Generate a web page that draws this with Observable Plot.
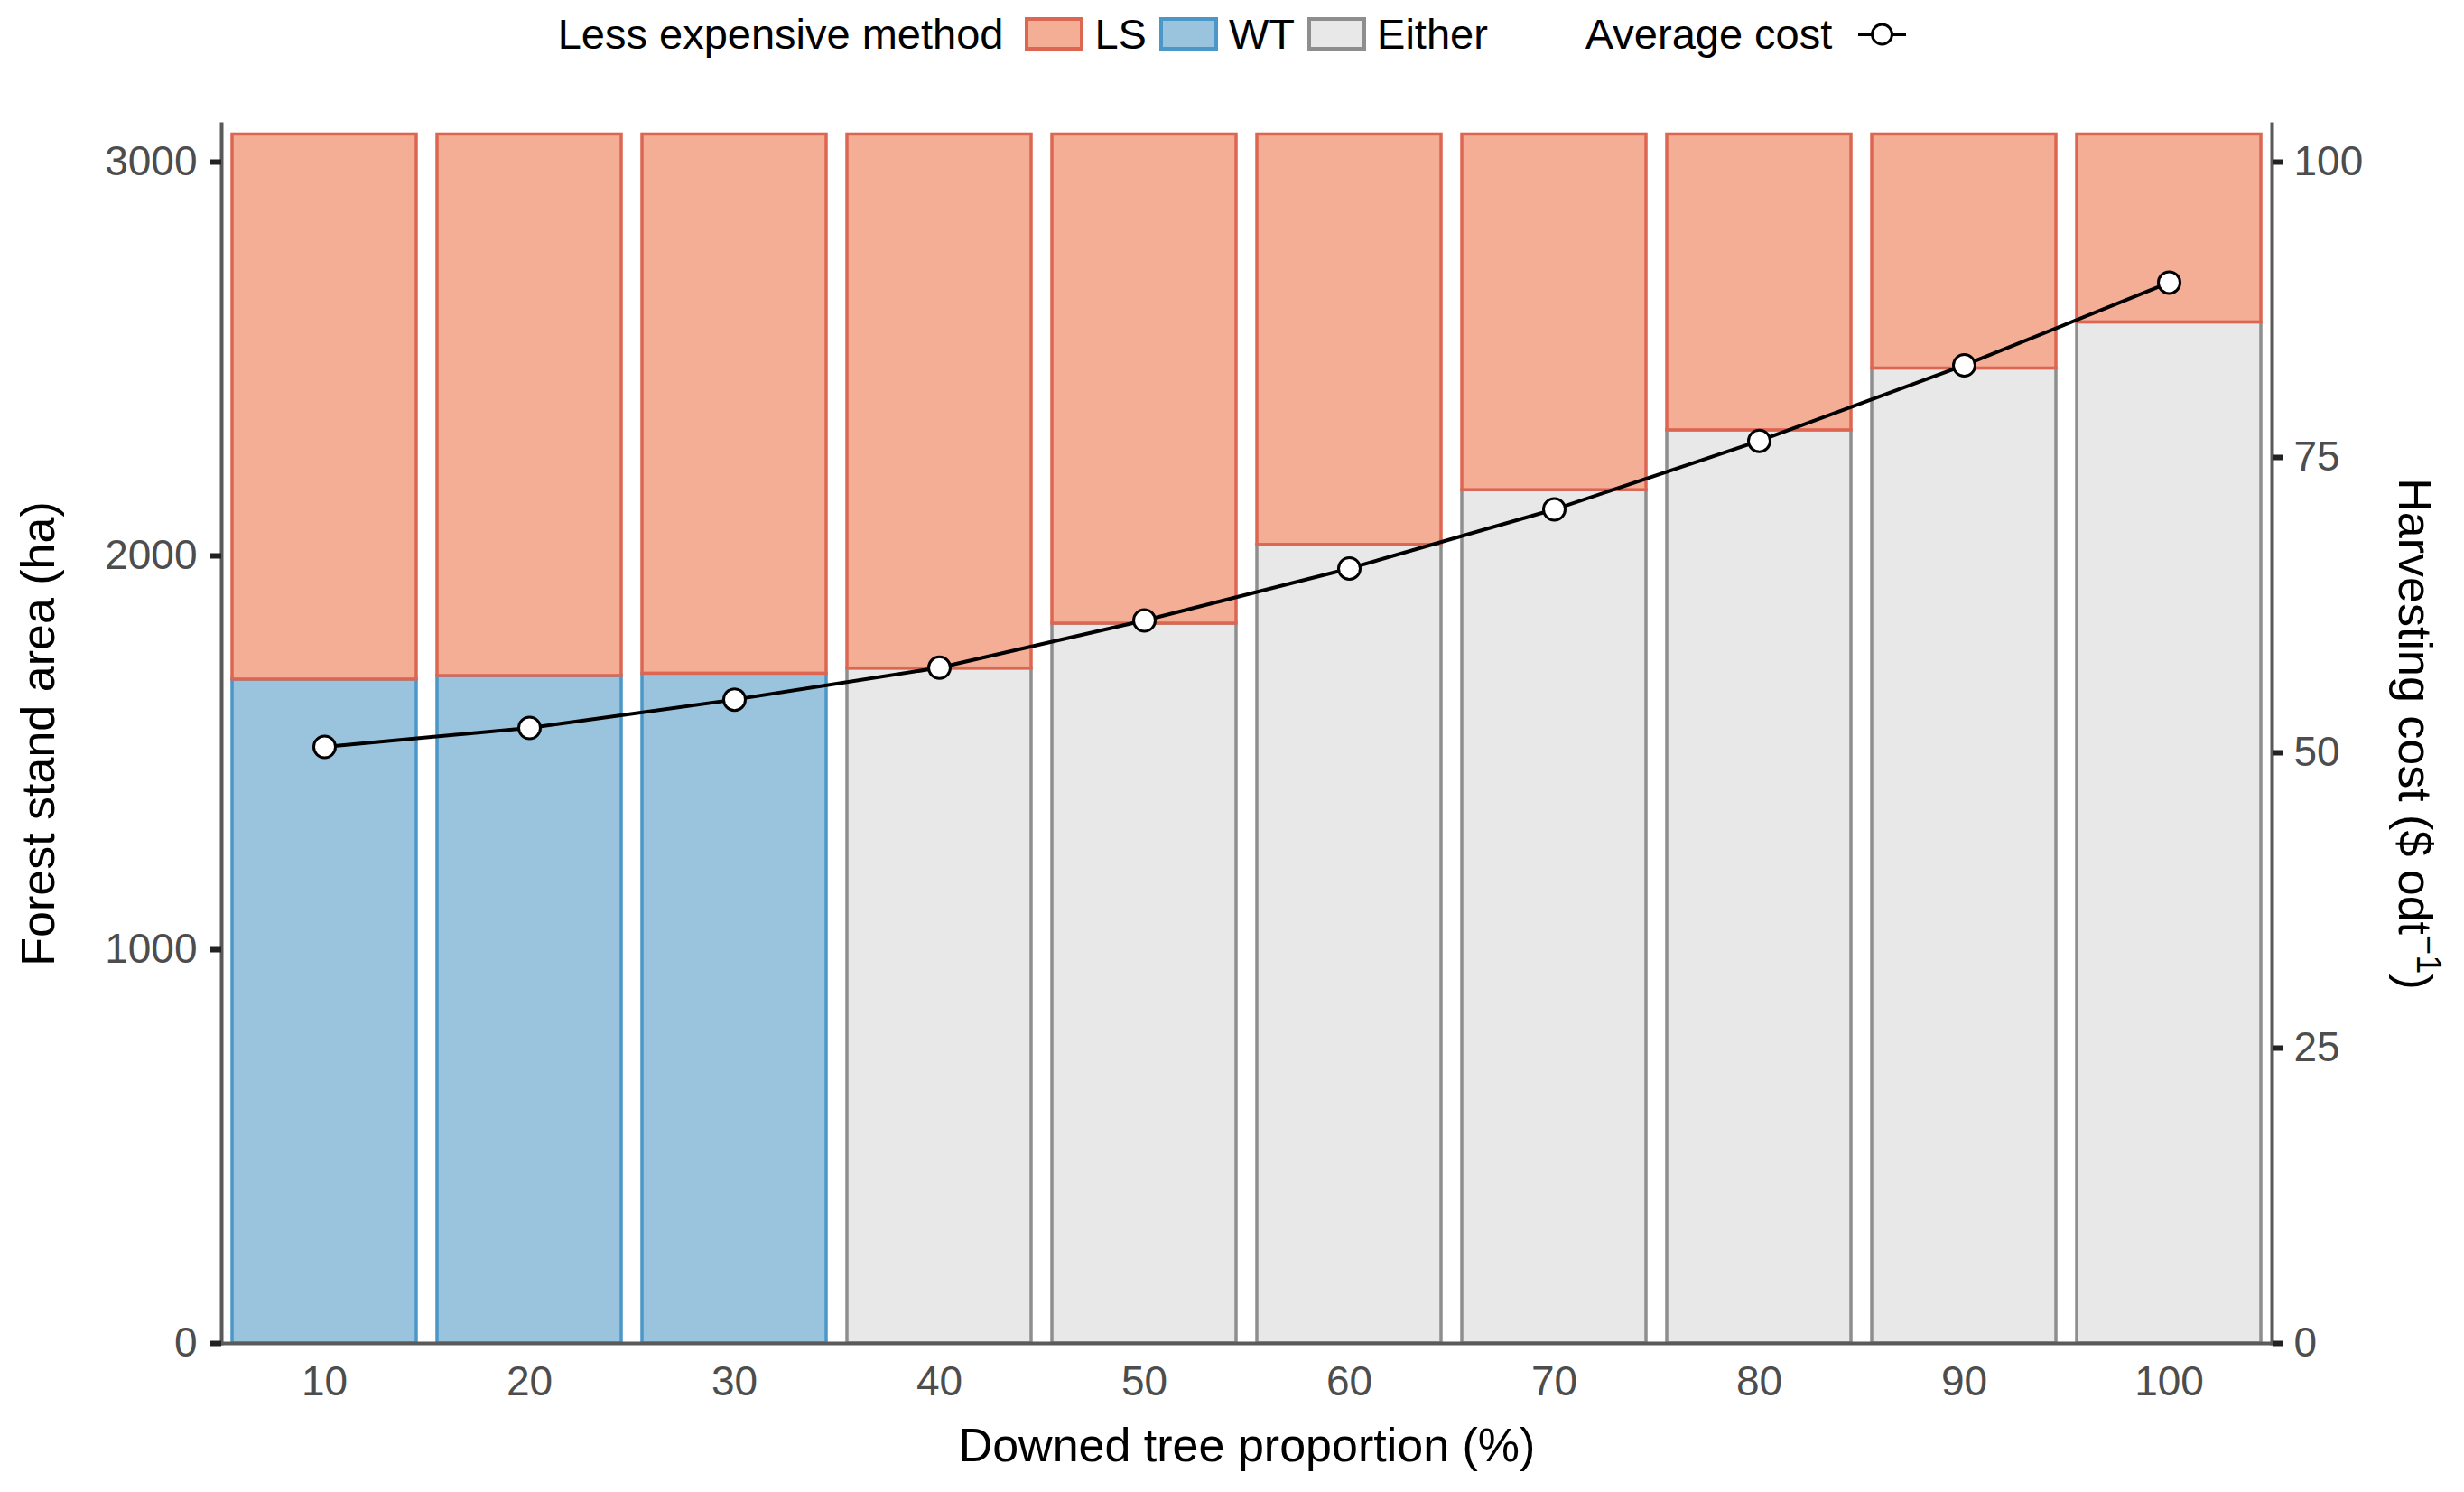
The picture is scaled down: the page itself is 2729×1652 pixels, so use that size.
<!DOCTYPE html>
<html>
<head>
<meta charset="utf-8">
<script src="https://cdn.jsdelivr.net/npm/d3@7"></script>
<script src="https://cdn.jsdelivr.net/npm/@observablehq/plot@0.6"></script>
<style>
  html, body { margin: 0; padding: 0; background: #fff; }
  body { width: 2729px; font-family: "Liberation Sans", Arial, Helvetica, sans-serif; }
  #legend {
    height: 75px; display: flex; align-items: center; justify-content: center;
    font-size: 47px; color: #000; white-space: nowrap;
  }
  .sw { width: 65px; height: 37px; box-sizing: border-box; border: 4px solid; display: inline-block; }
  .lab { margin-left: 12px; margin-right: 14px; }
  svg { display: block; }
</style>
</head>
<body>
<div id="legend"></div>
<div id="chart"></div>
<script>
// ---- data ----
const categories = [10, 20, 30, 40, 50, 60, 70, 80, 90, 100];
const wtArea     = [1686, 1695, 1701, 0, 0, 0, 0, 0, 0, 0];
const eitherArea = [0, 0, 0, 1714, 1828, 2028, 2167, 2319, 2476, 2593];
const lsArea     = [1384, 1375, 1369, 1356, 1242, 1042, 903, 751, 594, 477];
const avgCost    = [50.5, 52.1, 54.5, 57.2, 61.2, 65.6, 70.6, 76.4, 82.8, 89.8];
const leftTicks  = [0, 1000, 2000, 3000];
const rightTicks = [0, 25, 50, 75, 100];
const methods    = ["LS", "WT", "Either"];

// ---- styles ----
const fills   = {LS: "#f4ae95", WT: "#9ac4de", Either: "#e8e8e8"};
const strokes = {LS: "#dd6652", WT: "#4a97c8", Either: "#8e8e8e"};
const HA_PER_COST = 30;      // right axis: 100 $ odt-1  <->  3000 ha
const Y_TOP = 3096.3;

// ---- legend ----
const legend = document.getElementById("legend");
let html = `<span style="margin-right:24px">Less expensive method</span>`;
methods.forEach((m, i) => {
  html += `<span class="sw" style="background:${fills[m]};border-color:${strokes[m]}"></span>`;
  html += `<span class="lab" style="${i === methods.length - 1 ? "margin-right:108px" : ""}">${m}</span>`;
});
html += `<span style="margin-right:29px">Average cost</span>`;
html += `<svg width="53" height="28" style="display:inline-block"><line x1="0" x2="53" y1="14" y2="14" stroke="#000" stroke-width="4"/><circle cx="26.5" cy="14" r="11" fill="#fff" stroke="#000" stroke-width="3"/></svg>`;
legend.innerHTML = html;

// ---- tables ----
const rows = [];
categories.forEach((c, i) => {
  if (wtArea[i] > 0) rows.push({x: c, method: "WT", area: wtArea[i]});
  if (eitherArea[i] > 0) rows.push({x: c, method: "Either", area: eitherArea[i]});
  rows.push({x: c, method: "LS", area: lsArea[i]});
});
const costRows = categories.map((c, i) => ({x: c, cost: avgCost[i]}));

const W = 2729, H = 1577;
const axisColor = "#5a5a5a";

const chart = Plot.plot({
  width: W,
  height: H,
  marginTop: 62,
  marginBottom: 165,
  marginLeft: 245,
  marginRight: 213,
  style: {fontFamily: "Liberation Sans, Arial, Helvetica, sans-serif", fontSize: "46px", background: "#fff", overflow: "visible"},
  x: {type: "band", domain: categories, paddingInner: 0.1, paddingOuter: 0.04, axis: null},
  y: {domain: [0, Y_TOP], axis: null},
  color: {type: "identity"},
  marks: [
    Plot.barY(rows, Plot.stackY({
      x: "x", y: "area", z: "method", order: ["WT", "Either", "LS"],
      fill: d => fills[d.method], stroke: d => strokes[d.method], strokeWidth: 3.5
    })),
    Plot.line(costRows, {x: "x", y: d => d.cost * HA_PER_COST, stroke: "#000", strokeWidth: 4}),
    Plot.dot(costRows, {x: "x", y: d => d.cost * HA_PER_COST, r: 12, fill: "#fff", stroke: "#000", strokeWidth: 3}),
    Plot.frame({anchor: "left", stroke: axisColor, strokeWidth: 4}),
    Plot.frame({anchor: "right", stroke: axisColor, strokeWidth: 4}),
    Plot.frame({anchor: "bottom", stroke: axisColor, strokeWidth: 4}),
    Plot.axisY({anchor: "left", ticks: leftTicks, tickFormat: d => String(d), tickSize: 12, tickPadding: 15,
      stroke: "#222", strokeWidth: 6, fill: "#4d4d4d", fontSize: 46, label: null}),
    Plot.axisY({anchor: "right", ticks: rightTicks.map(t => t * HA_PER_COST), tickFormat: d => String(Math.round(d / HA_PER_COST)),
      tickSize: 12, tickPadding: 12, stroke: "#222", strokeWidth: 6, fill: "#4d4d4d", fontSize: 46, label: null}),
    Plot.axisX({anchor: "bottom", tickSize: 0, tickPadding: 25, fill: "#4d4d4d", fontSize: 46, label: null}),
    Plot.text(["Downed tree proportion (%)"], {frameAnchor: "bottom", dy: 114, textAnchor: "middle", lineAnchor: "middle", fontSize: 52, fill: "#000"}),
    Plot.text(["Forest stand area (ha)"], {frameAnchor: "left", dx: -202, rotate: -90, textAnchor: "middle", lineAnchor: "middle", fontSize: 52, fill: "#000"}),
    Plot.text(["Harvesting cost ($ odt-1)"], {frameAnchor: "right", dx: 157, rotate: 90, textAnchor: "middle", lineAnchor: "middle", fontSize: 52, fill: "#000"})
  ]
});
document.getElementById("chart").appendChild(chart);

// superscript for the right axis title
d3.select(chart).selectAll("text").filter(function() { return this.textContent === "Harvesting cost ($ odt-1)"; })
  .each(function() {
    const t = d3.select(this);
    t.text("Harvesting cost ($ odt");
    t.append("tspan").attr("dy", -20).attr("font-size", 38).text("\u22121");
    t.append("tspan").attr("dy", 20).text(")");
  });
</script>
</body>
</html>
